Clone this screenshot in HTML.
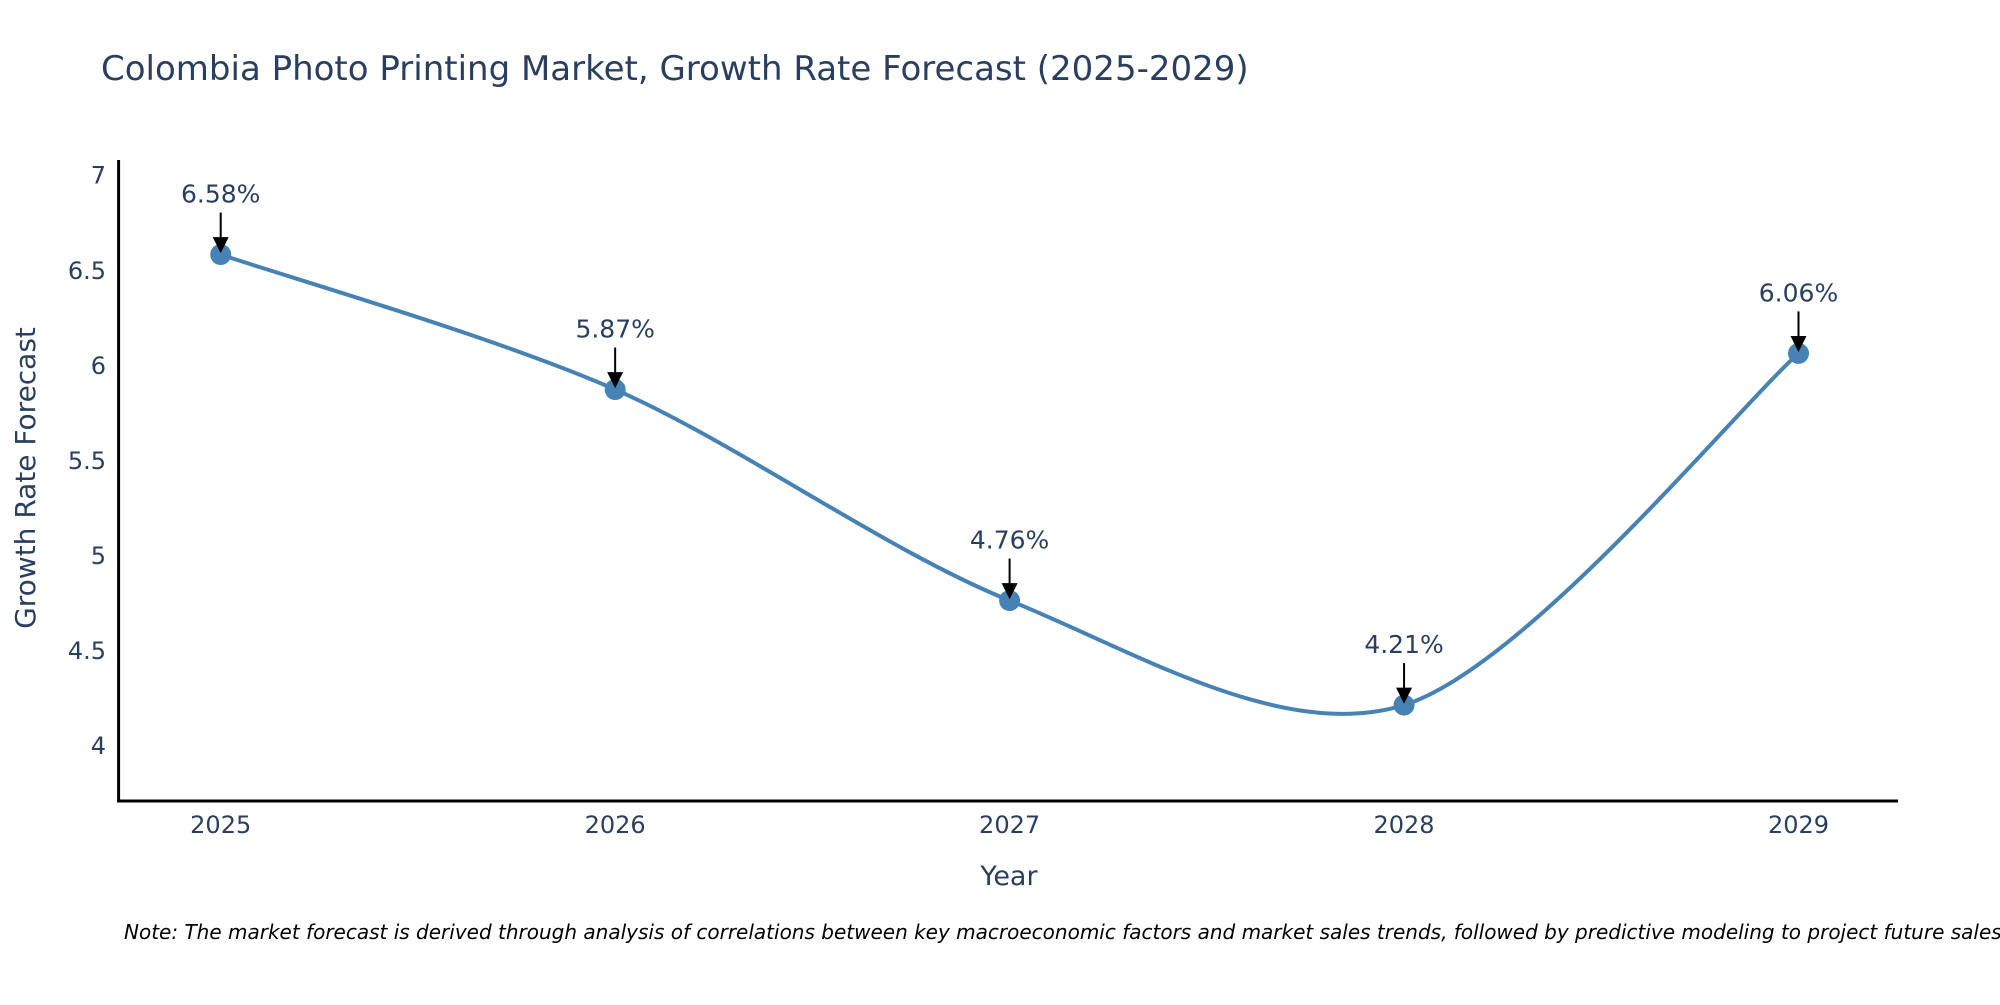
<!DOCTYPE html>
<html><head><meta charset="utf-8"><style>
body{margin:0;background:#fff}
svg text{font-family:"DejaVu Sans","Liberation Sans",sans-serif;fill:#2a3f5f}
</style></head><body>
<svg id="chart" width="2000" height="1000" xmlns="http://www.w3.org/2000/svg">
<defs><marker id="ah" viewBox="0 0 10 10" refX="10" refY="5" markerWidth="7" markerHeight="7" markerUnits="userSpaceOnUse" orient="auto"><path d="M0,0L10,5L0,10z" fill="#000"/></marker>
<marker id="ah2" viewBox="0 0 10 10" refX="9" refY="5" markerWidth="16" markerHeight="16" markerUnits="userSpaceOnUse" orient="auto"><path d="M0,0L10,5L0,10z" fill="#000"/></marker></defs>
<text x="101" y="80" font-size="34">Colombia Photo Printing Market, Growth Rate Forecast (2025-2029)</text>
<g id="plot"></g>
<text transform="translate(35,478) rotate(-90)" text-anchor="middle" font-size="28">Growth Rate Forecast</text>
<text x="1009" y="885" text-anchor="middle" font-size="27">Year</text>
<text x="124" y="939" font-size="20" font-style="italic" style="fill:#000">Note: The market forecast is derived through analysis of correlations between key macroeconomic factors and market sales trends, followed by predictive modeling to project future sales.</text>
</svg>
<script>
const years=[2025,2026,2027,2028,2029];
const values=[6.58,5.87,4.76,4.21,6.06];
const labels=["6.58%","5.87%","4.76%","4.21%","6.06%"];
const yTicks=[4,4.5,5,5.5,6,6.5,7];
const NS="http://www.w3.org/2000/svg";
const g=document.getElementById('plot');
const X=v=>220.7+(v-2025)*(1798.5-220.7)/4;
const Y=v=>745-(v-4)*190.1;
function el(t,a){const e=document.createElementNS(NS,t);for(const k in a)e.setAttribute(k,a[k]);g.appendChild(e);return e;}
yTicks.forEach(t=>{const e=el('text',{x:106,y:Y(t)+9,'text-anchor':'end','font-size':24});e.textContent=t;

});
years.forEach(t=>{const e=el('text',{x:X(t),y:833,'text-anchor':'middle','font-size':24});e.textContent=t;

});
const ya=el('line',{x1:118.6,y1:160,x2:118.6,y2:802,stroke:'#000','stroke-width':3});


const xa=el('line',{x1:117,y1:801,x2:1898,y2:801,stroke:'#000','stroke-width':3});


const P=years.map((y,i)=>[X(y),Y(values[i])]);
let d=`M${P[0][0]},${P[0][1]}`;
for(let i=0;i<P.length-1;i++){const p0=P[Math.max(i-1,0)],p1=P[i],p2=P[i+1],p3=P[Math.min(i+2,P.length-1)];
const k=1/6.5;
const c1=[p1[0]+(p2[0]-p0[0])*k,p1[1]+(p2[1]-p0[1])*k],c2=[p2[0]-(p3[0]-p1[0])*k,p2[1]-(p3[1]-p1[1])*k];
d+=`C${c1[0]},${c1[1]} ${c2[0]},${c2[1]} ${p2[0]},${p2[1]}`;}
const ln=el('path',{d:d,fill:'none',stroke:'#4682B4','stroke-width':4});


P.forEach((p,i)=>{const c=el('circle',{cx:p[0],cy:p[1],r:10.5,fill:'#4682B4'});


const a=el('line',{x1:p[0],y1:p[1]-42,x2:p[0],y2:p[1]-3,stroke:'#000','stroke-width':2,'marker-end':'url(#ah2)'});


const t=el('text',{x:p[0],y:p[1]-52,'text-anchor':'middle','font-size':25});t.textContent=labels[i];

});
</script>
</body></html>
